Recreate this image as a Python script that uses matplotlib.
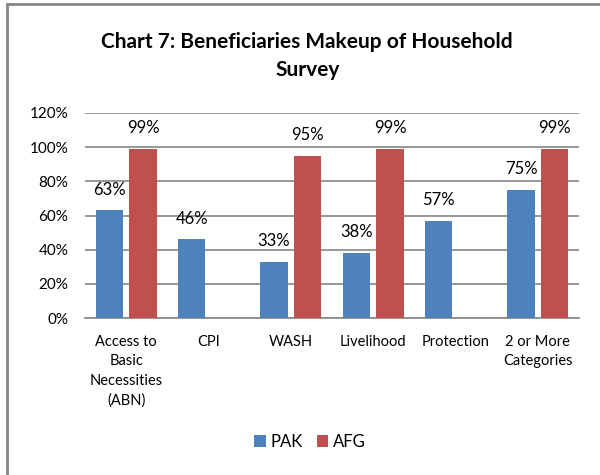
import matplotlib.pyplot as plt
import numpy as np
from matplotlib.patches import Rectangle

plt.rcParams['font.family'] = ['Lato', 'DejaVu Sans']

categories = ['Access to\nBasic\nNecessities\n(ABN)', 'CPI', 'WASH',
              'Livelihood', 'Protection', '2 or More\nCategories']
pak = [63, 46, 33, 38, 57, 75]
afg = [99, None, 95, 99, None, 99]

c_pak = '#4f81bd'
c_afg = '#c0504d'

fig = plt.figure(figsize=(6, 4.75), dpi=100)
ax = fig.add_axes([85 / 600, 1 - 318 / 475, 494 / 600, 205 / 475])

x = np.arange(len(categories))
w = 0.33
off = 0.205
afg_vals = [v if v is not None else 0 for v in afg]
b1 = ax.bar(x - off, pak, w, color=c_pak, label='PAK', zorder=3)
b2 = ax.bar(x + off, afg_vals, w, color=c_afg, label='AFG', zorder=3)

for i, v in enumerate(pak):
    ax.text(x[i] - off, v + 7.5, f'{v}%', ha='center', va='bottom', fontsize=12)
for i, v in enumerate(afg):
    if v is not None:
        ax.text(x[i] + off, v + 7.5, f'{v}%', ha='center', va='bottom', fontsize=12)

ax.set_xlim(-0.5, len(categories) - 0.5)
ax.set_ylim(0, 120)
ax.set_yticks(range(0, 121, 20))
ax.set_yticklabels([f'{t}%' for t in range(0, 121, 20)], fontsize=11)
ax.set_xticks(x)
ax.set_xticklabels(categories, fontsize=10.5, va='top', linespacing=1.5)
ax.tick_params(axis='x', length=0, pad=12)
ax.tick_params(axis='y', length=0, pad=12)
ax.grid(axis='y', color='#868686', linewidth=1.2, zorder=0)
for s in ['top', 'right', 'left']:
    ax.spines[s].set_visible(False)
ax.spines['bottom'].set_color('#868686')
ax.spines['bottom'].set_linewidth(1.2)

fig.text(0.512, 1 - 56 / 475, 'Chart 7: Beneficiaries Makeup of Household\nSurvey',
         ha='center', va='center', fontsize=15, fontweight='bold', linespacing=1.5)

fig.legend(handles=[b1, b2], labels=['PAK', 'AFG'], loc='center',
           bbox_to_anchor=(0.517, 1 - 442 / 475), ncol=2, frameon=False,
           fontsize=12, handlelength=0.7, handleheight=0.7, handletextpad=0.3,
           columnspacing=0.8)

fig.patches.append(Rectangle((7 / 600, -0.1), 1.2, 1 - 4 / 475 + 0.1,
                             transform=fig.transFigure, fill=False,
                             edgecolor='#868686', linewidth=2))

fig.savefig('out.png', dpi=100)
